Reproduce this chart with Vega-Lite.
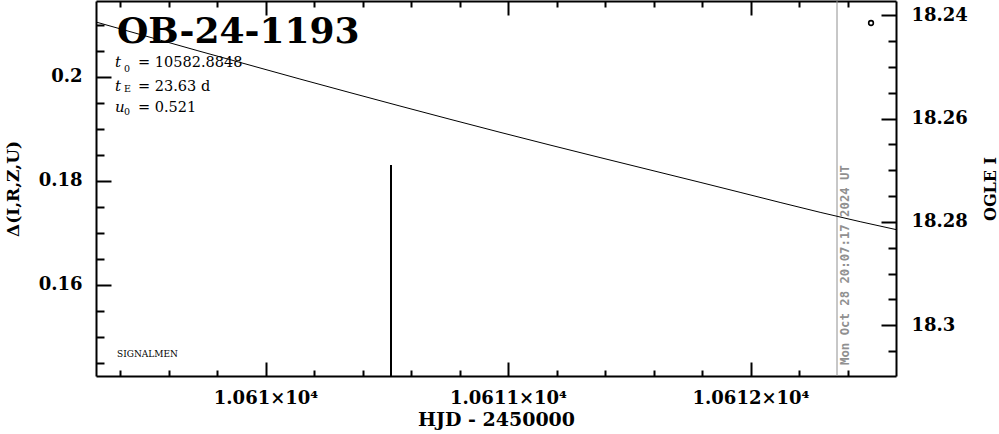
{
  "$schema": "https://vega.github.io/schema/vega-lite/v6.json",
  "width": 800,
  "height": 375,
  "autosize": "none",
  "padding": {"left": 96, "top": 1, "right": 103, "bottom": 58},
  "background": "white",
  "config": {
    "view": {"stroke": null},
    "axis": {
      "domainColor": "black",
      "domainWidth": 2,
      "tickColor": "black",
      "tickWidth": 2,
      "grid": false,
      "labelFont": "DejaVu Serif",
      "labelFontWeight": "bold",
      "labelFontSize": 18,
      "labelColor": "black",
      "titleFont": "DejaVu Serif",
      "titleFontWeight": "bold",
      "titleFontSize": 18,
      "titleColor": "black"
    }
  },
  "layer": [
    {
      "encoding": {
        "x": {
          "field": "hjd",
          "type": "quantitative",
          "scale": {"domain": [10609.301, 10612.6], "nice": false, "zero": false},
          "axis": {
            "orient": "bottom",
            "title": "HJD - 2450000",
            "titleFontSize": 19,
            "titlePadding": -5,
            "values": [10609.4, 10609.6, 10609.8, 10610, 10610.2, 10610.4, 10610.6, 10610.8, 10611, 10611.2, 10611.4, 10611.6, 10611.8, 10612, 10612.2, 10612.4],
            "tickSize": {"condition": {"test": "abs(datum.value - round(datum.value)) < 0.01", "value": -14}, "value": -6},
            "labelPadding": 27,
            "labelOverlap": false,
            "labelExpr": "abs(datum.value - round(datum.value)) < 0.01 ? format(datum.value / 10000, '.5~f') + '×10⁴' : ''"
          }
        },
        "y": {
          "field": "delta",
          "type": "quantitative",
          "scale": {"domain": [0.1425, 0.214615], "nice": false, "zero": false},
          "axis": {
            "orient": "left",
            "title": "Δ(I,R,Z,U)",
            "titleFontSize": 17,
            "titlePadding": 16,
            "values": [0.145, 0.15, 0.155, 0.16, 0.165, 0.17, 0.175, 0.18, 0.185, 0.19, 0.195, 0.2, 0.205, 0.21],
            "tickSize": {"condition": {"test": "abs(datum.value / 0.02 - round(datum.value / 0.02)) < 0.01", "value": -15}, "value": -8},
            "labelPadding": 29,
            "labelOverlap": false,
            "labelExpr": "abs(datum.value / 0.02 - round(datum.value / 0.02)) < 0.01 ? format(datum.value, '.2~f') : ''"
          }
        }
      },
      "layer": [
        {
          "data": {"values": [{"hjd": 10610.5175, "delta": 0.18308, "delta2": 0.1425}]},
          "mark": {"type": "rule", "color": "black", "strokeWidth": 2},
          "encoding": {"y2": {"field": "delta2"}}
        },
        {
          "data": {"values": [{"hjd": 10612.3567, "delta": 0.214615, "delta2": 0.1425}]},
          "mark": {"type": "rule", "color": "#909090", "strokeWidth": 1},
          "encoding": {"y2": {"field": "delta2"}}
        },
        {
          "data": {"values": [{"hjd": 10612.39, "delta": 0.14462, "label": "Mon Oct 28 20:07:17 2024 UT"}]},
          "mark": {"type": "text", "angle": 270, "align": "left", "baseline": "middle", "font": "DejaVu Sans Mono", "fontWeight": "bold", "fontSize": 12.3, "color": "#909090"},
          "encoding": {"text": {"field": "label"}}
        },
        {
          "data": {"values": [{"hjd": 10609.3876, "delta": 0.206538, "label": "OB-24-1193"}]},
          "mark": {"type": "text", "align": "left", "baseline": "alphabetic", "font": "DejaVu Serif", "fontWeight": "bold", "fontSize": 36, "color": "black"},
          "encoding": {"text": {"field": "label"}}
        },
        {
          "data": {"values": [
            {"hjd": 10609.3794, "delta": 0.201981, "label": "t"},
            {"hjd": 10609.3794, "delta": 0.197365, "label": "t"},
            {"hjd": 10609.3794, "delta": 0.193212, "label": "u"}
          ]},
          "mark": {"type": "text", "align": "left", "baseline": "alphabetic", "font": "DejaVu Serif", "fontStyle": "italic", "fontSize": 15, "color": "black"},
          "encoding": {"text": {"field": "label"}}
        },
        {
          "data": {"values": [
            {"hjd": 10609.4165, "delta": 0.200962, "label": "0"},
            {"hjd": 10609.4165, "delta": 0.197115, "label": "E"},
            {"hjd": 10609.4165, "delta": 0.192692, "label": "0"}
          ]},
          "mark": {"type": "text", "align": "left", "baseline": "alphabetic", "font": "DejaVu Serif", "fontSize": 9.5, "color": "black"},
          "encoding": {"text": {"field": "label"}}
        },
        {
          "data": {"values": [
            {"hjd": 10609.4742, "delta": 0.201981, "label": "= 10582.8848"},
            {"hjd": 10609.4742, "delta": 0.197365, "label": "= 23.63 d"},
            {"hjd": 10609.4742, "delta": 0.193212, "label": "= 0.521"}
          ]},
          "mark": {"type": "text", "align": "left", "baseline": "alphabetic", "font": "DejaVu Serif", "fontSize": 14.5, "color": "black"},
          "encoding": {"text": {"field": "label"}}
        },
        {
          "data": {"values": [{"hjd": 10609.3876, "delta": 0.146154, "label": "SIGNALMEN"}]},
          "mark": {"type": "text", "align": "left", "baseline": "alphabetic", "font": "DejaVu Serif", "fontSize": 9, "color": "black"},
          "encoding": {"text": {"field": "label"}}
        }
      ]
    },
    {
      "encoding": {
        "x": {
          "field": "hjd",
          "type": "quantitative",
          "scale": {"domain": [10609.301, 10612.6], "nice": false, "zero": false},
          "axis": {
            "orient": "top",
            "title": null,
            "labels": false,
            "values": [10609.4, 10609.6, 10609.8, 10610, 10610.2, 10610.4, 10610.6, 10610.8, 10611, 10611.2, 10611.4, 10611.6, 10611.8, 10612, 10612.2, 10612.4],
            "tickSize": {"condition": {"test": "abs(datum.value - round(datum.value)) < 0.01", "value": -14}, "value": -6}
          }
        },
        "y": {
          "field": "mag",
          "type": "quantitative",
          "scale": {"domain": [18.23725, 18.30983], "reverse": true, "nice": false, "zero": false},
          "axis": {
            "orient": "right",
            "title": "OGLE I",
            "titleAngle": 270,
            "titleFontSize": 16,
            "titlePadding": 31,
            "values": [18.24, 18.245, 18.25, 18.255, 18.26, 18.265, 18.27, 18.275, 18.28, 18.285, 18.29, 18.295, 18.3, 18.305],
            "tickSize": {"condition": {"test": "abs((datum.value - 18.24) / 0.02 - round((datum.value - 18.24) / 0.02)) < 0.01", "value": -15}, "value": -8},
            "labelPadding": 30,
            "labelOverlap": false,
            "labelExpr": "abs((datum.value - 18.24) / 0.02 - round((datum.value - 18.24) / 0.02)) < 0.01 ? format(datum.value, '.2~f') : ''"
          }
        }
      },
      "layer": [
        {
          "data": {"values": [
            {"hjd": 10609.301, "mag": 18.24132},
            {"hjd": 10610.142, "mag": 18.25235},
            {"hjd": 10610.967, "mag": 18.26266},
            {"hjd": 10611.792, "mag": 18.27234},
            {"hjd": 10612.452, "mag": 18.27996},
            {"hjd": 10612.6, "mag": 18.28149}
          ]},
          "mark": {"type": "line", "color": "black", "strokeWidth": 1, "interpolate": "monotone"}
        },
        {
          "data": {"values": [{"hjd": 10612.497, "mag": 18.24151}]},
          "mark": {"type": "point", "shape": "circle", "filled": false, "size": 22, "color": "black", "strokeWidth": 1.6, "opacity": 1}
        }
      ]
    }
  ],
  "resolve": {"scale": {"y": "independent"}, "axis": {"x": "independent"}}
}
